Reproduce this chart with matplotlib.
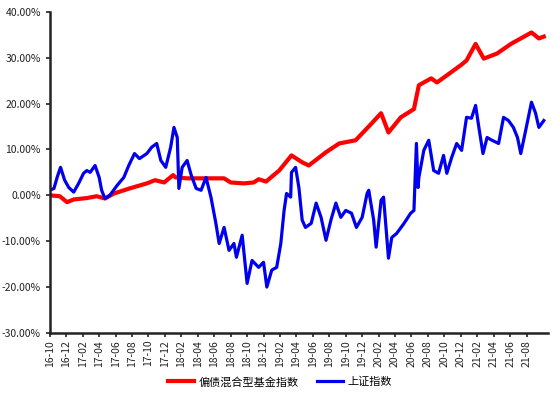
import matplotlib
matplotlib.use('Agg')
import matplotlib.pyplot as plt
from matplotlib.ticker import FuncFormatter

plt.rcParams['font.family'] = ['Noto Sans CJK SC', 'DejaVu Sans']

# months counted from 2016-10
bond_m = [0, 1.2, 2.1, 2.9, 4.5, 5.7, 6.7, 7.8, 9.7, 11.8, 12.8, 13.9, 15.0, 15.3,
          16.7, 18.7, 21.2, 22.0, 23.6, 24.8, 25.4, 26.3, 27.9, 29.4, 30.7, 31.5,
          33.6, 35.2, 37.2, 38.8, 40.3, 41.2, 42.7, 44.3, 44.9, 46.4, 47.1, 48.8,
          50.1, 50.7, 51.8, 52.8, 54.4, 56.1, 57.3, 58.6, 59.5, 60.1]
bond_v = [0, -0.2, -1.5, -0.9, -0.6, -0.2, -0.7, 0.4, 1.5, 2.6, 3.3, 2.8, 4.4, 3.9,
          3.7, 3.7, 3.7, 2.8, 2.6, 2.8, 3.5, 3.0, 5.4, 8.7, 7.2, 6.5,
          9.4, 11.3, 12.0, 15.0, 17.9, 13.7, 17.0, 18.8, 24.0, 25.5, 24.6, 26.8,
          28.5, 29.4, 33.0, 29.8, 30.9, 33.0, 34.2, 35.5, 34.2, 34.6]

sh_m = [0, 0.5, 0.9, 1.3, 1.8, 2.3, 2.9, 3.5, 4.1, 4.5, 4.9, 5.5, 6.0, 6.3, 6.7,
        7.3, 8.2, 9.0, 9.6, 10.3, 10.9, 11.8, 12.4, 13.0, 13.5, 14.1, 14.7, 15.1,
        15.5, 15.7, 16.1, 16.7, 17.2, 17.8, 18.4, 19.0, 19.6, 20.2, 20.6, 21.2,
        21.8, 22.4, 22.7, 23.4, 23.8, 24.0, 24.6, 25.4, 26.0, 26.4, 27.0, 27.6,
        28.1, 28.5, 28.8, 29.3, 29.4, 29.9, 30.3, 30.7, 31.1, 31.8, 32.4, 33.0,
        33.6, 34.2, 34.8, 35.4, 36.0, 36.7, 37.3, 38.0, 38.6, 38.8, 39.4, 39.7,
        40.3, 40.6, 40.9, 41.2, 41.6, 42.2, 43.1, 43.9, 44.3, 44.6, 44.8, 44.9,
        45.5, 46.1, 46.7, 47.3, 47.9, 48.3, 48.9, 49.5, 50.1, 50.7, 51.3, 51.8,
        52.2, 52.7, 53.2, 53.8, 54.6, 55.2, 55.8, 56.4, 56.9, 57.3, 57.9, 58.6,
        59.1, 59.5, 60.1]
sh_v = [1.1, 1.5, 4.0, 6.1, 3.3, 1.7, 0.7, 2.6, 4.8, 5.4, 5.0, 6.5, 3.9, 1.1, -0.7,
        0.0, 2.2, 3.9, 6.5, 9.1, 8.0, 9.1, 10.5, 11.3, 7.6, 6.1, 10.5, 14.8,
        12.6, 1.5, 6.1, 7.6, 4.4, 1.5, 1.1, 3.9, -0.4, -6.1, -10.5, -7.0,
        -12.0, -10.5, -13.5, -8.7, -15.7, -19.2, -14.2, -15.7, -14.6, -20.0, -16.3, -15.7,
        -10.5, -3.3, 0.4, -0.4, 5.0, 6.1, 1.7, -5.4, -7.0, -6.1, -1.7, -4.8,
        -9.8, -5.4, -1.7, -4.8, -3.3, -3.9, -7.0, -4.8, 0.4, 1.1, -5.4, -11.3,
        -1.1, -0.4, -7.0, -13.7, -9.2, -8.3, -6.1, -3.9, -3.3, 11.3, 1.7, 3.9,
        9.8, 12.0, 5.4, 4.8, 8.7, 4.8, 8.3, 11.3, 9.8, 17.0, 16.8, 19.6,
        14.8, 9.1, 12.6, 12.0, 11.3, 17.0, 16.3, 14.8, 12.6, 9.1, 14.2, 20.3,
        17.9, 14.8, 16.3]

tick_labels = ['16-10', '16-12', '17-02', '17-04', '17-06', '17-08', '17-10', '17-12',
               '18-02', '18-04', '18-06', '18-08', '18-10', '18-12', '19-02', '19-04',
               '19-06', '19-08', '19-10', '19-12', '20-02', '20-04', '20-06', '20-08',
               '20-10', '20-12', '21-02', '21-04', '21-06', '21-08']

fig = plt.figure(figsize=(5.54, 3.94), dpi=100)
ax = fig.add_axes([0.090, 0.155, 0.899, 0.815])

ax.plot(bond_m, bond_v, color='#ff0000', lw=3.0, label='偏债混合型基金指数')
ax.plot(sh_m, sh_v, color='#0000ee', lw=2.3, label='上证指数')

ax.set_xlim(0, 60.6)
ax.set_ylim(-30, 40)
ax.set_yticks(range(-30, 41, 10))
ax.yaxis.set_major_formatter(FuncFormatter(lambda v, p: '%.2f%%' % v))
ax.set_xticks([2 * i for i in range(len(tick_labels))])
ax.set_xticklabels(tick_labels, rotation=90)

for s in ['top', 'right']:
    ax.spines[s].set_visible(False)
for s in ['left', 'bottom']:
    ax.spines[s].set_linewidth(1.8)
    ax.spines[s].set_color('#222222')
ax.tick_params(axis='both', labelsize=7.5, colors='#222222', length=3, width=1.2)
ax.tick_params(axis='x', pad=2)

ax.legend(loc='center', bbox_to_anchor=(0.462, -0.153), ncol=2, frameon=False,
          fontsize=8, handlelength=2.4, columnspacing=1.6, handletextpad=0.4,
          borderaxespad=0, borderpad=0)

fig.savefig('out.png', dpi=100)
